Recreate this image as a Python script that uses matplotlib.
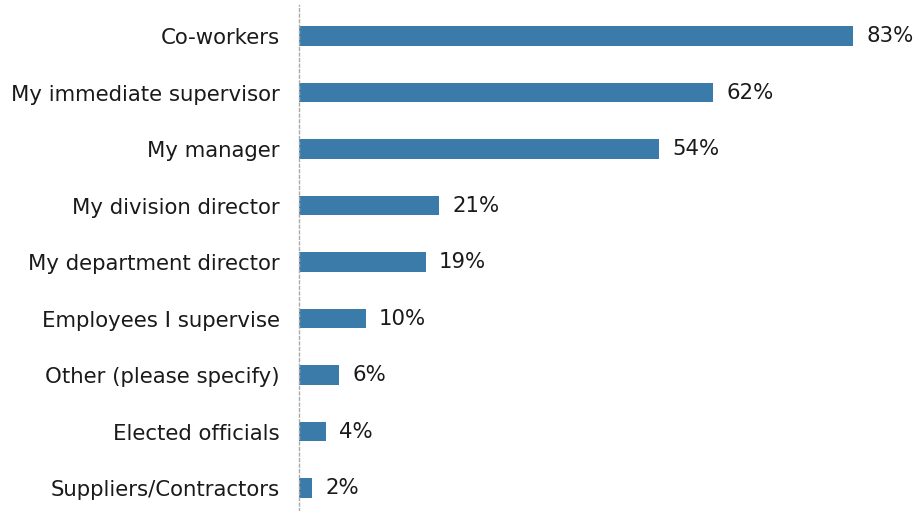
import matplotlib
matplotlib.use("Agg")
import matplotlib.pyplot as plt

plt.rcParams["font.family"] = ["DejaVu Sans"]

categories = [
    "Co-workers",
    "My immediate supervisor",
    "My manager",
    "My division director",
    "My department director",
    "Employees I supervise",
    "Other (please specify)",
    "Elected officials",
    "Suppliers/Contractors",
]
values = [83, 62, 54, 21, 19, 10, 6, 4, 2]

bar_color = "#3B7BA9"
text_color = "#1a1a1a"
font_size = 15.3

fig = plt.figure(figsize=(9.17, 5.11), dpi=100)
ax = fig.add_axes([299 / 917, 0.0, 618 / 917, 506 / 511])

pos = list(range(len(categories)))
ax.barh(pos, values, height=0.34, color=bar_color, zorder=2)

for y, v in zip(pos, values):
    ax.text(v + 2.0, y, f"{v}%", va="center", ha="left",
            fontsize=font_size, color=text_color)

ax.set_xlim(0, 618 / 6.675)
ax.set_ylim(8 + 23 / 56.5, -31 / 56.5)
ax.set_yticks(pos)
ax.set_yticklabels(categories, fontsize=font_size, color=text_color)
ax.tick_params(axis="y", length=0, pad=14)
ax.set_xticks([])

for side in ("top", "right", "bottom"):
    ax.spines[side].set_visible(False)
ax.spines["left"].set_color("#aaaaaa")
ax.spines["left"].set_linestyle((0, (2, 2)))
ax.spines["left"].set_linewidth(1.0)

fig.savefig("out.png", dpi=100)
